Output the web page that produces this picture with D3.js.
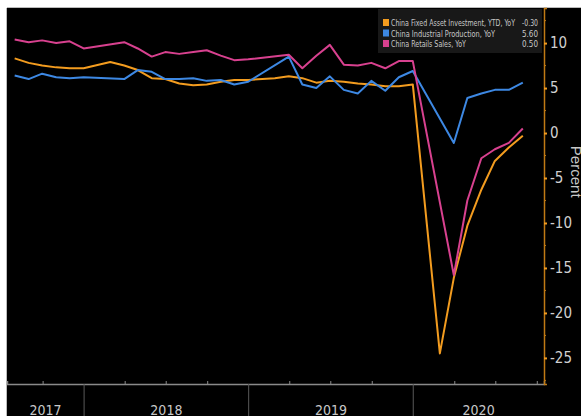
<!DOCTYPE html>
<html>
<head>
<meta charset="utf-8">
<script src="https://cdn.jsdelivr.net/npm/d3@7"></script>
<style>
  body { margin: 0; background: #fff; }
  svg { display: block; }
</style>
</head>
<body>
<div class="chart"></div>
<script>
// month-end observations, Jan is folded into Feb in China data
const months = [
    "2017-07", "2017-08", "2017-09", "2017-10", "2017-11", "2017-12",
    "2018-02", "2018-03", "2018-04", "2018-05", "2018-06", "2018-07", "2018-08", "2018-09", "2018-10", "2018-11", "2018-12",
    "2019-02", "2019-03", "2019-04", "2019-05", "2019-06", "2019-07", "2019-08", "2019-09", "2019-10", "2019-11", "2019-12",
    "2020-02", "2020-03", "2020-04", "2020-05", "2020-06", "2020-07", "2020-08"
];

const fixedAsset = [8.3, 7.8, 7.5, 7.3, 7.2, 7.2,
    7.9, 7.5, 7.0, 6.1, 6.0, 5.5, 5.3, 5.4, 5.7, 5.9, 5.9,
    6.1, 6.3, 6.1, 5.6, 5.8, 5.7, 5.5, 5.4, 5.2, 5.2, 5.4,
    -24.5, -16.1, -10.3, -6.3, -3.1, -1.6, -0.3];

const industrial = [6.4, 6.0, 6.6, 6.2, 6.1, 6.2,
    null, 6.0, 7.0, 6.8, 6.0, 6.0, 6.1, 5.8, 5.9, 5.4, 5.7,
    null, 8.5, 5.4, 5.0, 6.3, 4.8, 4.4, 5.8, 4.7, 6.2, 6.9,
    null, -1.1, 3.9, 4.4, 4.8, 4.8, 5.6];

const retail = [10.4, 10.1, 10.3, 10.0, 10.2, 9.4,
    null, 10.1, 9.4, 8.5, 9.0, 8.8, 9.0, 9.2, 8.6, 8.1, 8.2,
    null, 8.7, 7.2, 8.6, 9.8, 7.6, 7.5, 7.8, 7.2, 8.0, 8.0,
    null, -15.8, -7.5, -2.8, -1.8, -1.1, 0.5];

const seriesNames = ["China Fixed Asset Investment, YTD, YoY", "China Industrial Production, YoY", "China Retails Sales, YoY"];
const lastValues = ["-0.30", "5.60", "0.50"];
const colors = ["#f39c1f", "#3d88e3", "#d8418f"];

const yTicks = [10, 5, 0, -5, -10, -15, -20, -25];
const years = [2017, 2018, 2019, 2020];

const w = 581;
const h = 416;
const margin = { left: 7, top: 8, right: 37, axisY: 384 };

const narrow = "'Liberation Sans Narrow', 'DejaVu Sans Condensed', sans-serif";

const parseMonth = d3.timeParse("%Y-%m");
const monthEnd = (s) => d3.timeDay.offset(d3.timeMonth.offset(parseMonth(s), 1), -1);

const svg = d3.select(".chart")
    .append("svg")
    .attr("width", w)
    .attr("height", h);

svg.append("rect")
    .attr("x", margin.left)
    .attr("y", margin.top)
    .attr("width", w - margin.left)
    .attr("height", h - margin.top)
    .attr("fill", "#000");

svg.append("line")
    .attr("x1", margin.left).attr("x2", w)
    .attr("y1", margin.top - 0.5).attr("y2", margin.top - 0.5)
    .attr("stroke", "#bbb");
svg.append("line")
    .attr("x1", margin.left - 0.5).attr("x2", margin.left - 0.5)
    .attr("y1", margin.top).attr("y2", h)
    .attr("stroke", "#bbb");

const plotRight = w - margin.right;

const xScale = d3.scaleTime()
    .domain([new Date(2017, 6, 14), new Date(2020, 9, 17)])
    .range([margin.left, plotRight]);

const yScale = d3.scaleLinear()
    .domain([-27.9, 13.9])
    .range([margin.axisY, margin.top]);

// x axis: quarter ticks pointing up, year separators down
const quarterTicks = d3.timeMonth.range(new Date(2017, 9, 1), new Date(2020, 10, 1), 3)
    .filter(d => d.getMonth() !== 0);

const xAxis = d3.axisBottom(xScale)
    .tickValues(quarterTicks)
    .tickSize(-3)
    .tickFormat("");

svg.append("g")
    .attr("class", "axisX")
    .attr("transform", `translate(0,${margin.axisY})`)
    .call(xAxis)
    .call(g => g.select(".domain").attr("stroke", "#8a8a8a").attr("stroke-width", 1.5))
    .call(g => g.selectAll(".tick line").attr("stroke", "#8a8a8a"));

years.slice(1).forEach(y => {
    svg.append("line")
        .attr("x1", xScale(new Date(y, 0, 1)))
        .attr("x2", xScale(new Date(y, 0, 1)))
        .attr("y1", margin.axisY)
        .attr("y2", h)
        .attr("stroke", "#5a5a5a");
});

years.forEach(y => {
    const a = Math.max(xScale(new Date(y, 0, 1)), margin.left);
    const b = Math.min(xScale(new Date(y + 1, 0, 1)), plotRight);
    svg.append("text")
        .attr("x", (a + b) / 2)
        .attr("y", 415)
        .attr("text-anchor", "middle")
        .attr("fill", "#c8c8c8")
        .style("font-family", narrow)
        .style("font-size", "14px")
        .text(y);
});

// y axis on the right
const yAxis = d3.axisRight(yScale)
    .tickValues(yTicks)
    .tickSize(3)
    .tickPadding(3)
    .tickFormat(d => d < 0 ? "-" + Math.abs(d) : d);

const minorTicks = d3.range(-27.5, 13, 2.5).filter(v => v % 5 !== 0);

svg.append("g")
    .attr("class", "axisMinor")
    .attr("transform", `translate(${plotRight},0)`)
    .selectAll("line")
    .data(minorTicks)
    .join("line")
    .attr("x1", 0).attr("x2", 2)
    .attr("y1", d => yScale(d)).attr("y2", d => yScale(d))
    .attr("stroke", "#c07a14");

svg.append("g")
    .attr("class", "axisY")
    .attr("transform", `translate(${plotRight},0)`)
    .call(yAxis)
    .call(g => g.select(".domain").attr("stroke", "#c07a14").attr("stroke-width", 1.5))
    .call(g => g.selectAll(".tick line").attr("stroke", "#f39c1f").attr("stroke-width", 2))
    .call(g => g.selectAll("text")
        .attr("fill", "#d0d0d0")
        .style("font-family", narrow)
        .style("font-size", "15px"));

svg.append("text")
    .text("Percent")
    .attr("transform", `translate(571,${yScale(-4.3)}) rotate(90)`)
    .attr("text-anchor", "middle")
    .attr("fill", "#c8c8c8")
    .style("font-family", "'Liberation Sans', sans-serif")
    .style("font-size", "15px");

// lines
const allSeries = [fixedAsset, industrial, retail].map(values =>
    months.map((m, i) => ({ date: monthEnd(m), value: values[i] }))
        .filter(d => d.value !== null)
);

const line = d3.line()
    .x(d => xScale(d.date))
    .y(d => yScale(d.value));

svg.append("g")
    .selectAll("path")
    .data(allSeries)
    .join("path")
    .attr("fill", "none")
    .attr("stroke", (_, i) => colors[i])
    .attr("stroke-width", 2)
    .attr("stroke-linejoin", "round")
    .attr("d", line);

// legend
const legend = svg.append("g").attr("transform", "translate(378,9)");

legend.append("rect")
    .attr("width", 164)
    .attr("height", 44)
    .attr("fill", "#181818");

const nameWidths = [124, 104, 75];

const rows = legend.selectAll(".row")
    .data(seriesNames)
    .join("g")
    .attr("class", "row")
    .attr("transform", (_, i) => `translate(0,${17 + i * 10.5})`);

rows.append("rect")
    .attr("x", 5).attr("y", -7)
    .attr("width", 6).attr("height", 7)
    .attr("fill", (_, i) => colors[i]);

rows.append("text")
    .attr("x", 13)
    .attr("fill", "#c8c8c8")
    .attr("textLength", (_, i) => nameWidths[i])
    .attr("lengthAdjust", "spacingAndGlyphs")
    .style("font-family", narrow)
    .style("font-size", "9px")
    .text(d => d);

rows.append("text")
    .attr("x", 160)
    .attr("text-anchor", "end")
    .attr("fill", "#c8c8c8")
    .attr("textLength", 16)
    .attr("lengthAdjust", "spacingAndGlyphs")
    .style("font-family", narrow)
    .style("font-size", "9px")
    .text((_, i) => lastValues[i]);
</script>
</body>
</html>
